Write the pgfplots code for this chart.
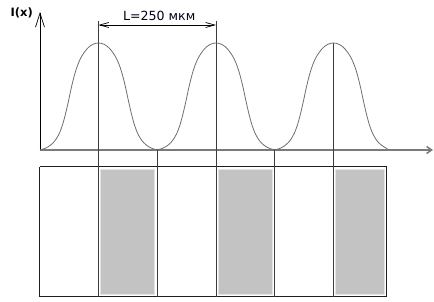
\documentclass[border=0pt]{standalone}
\usepackage{fontspec}
\setmainfont{DejaVu Sans}
\usepackage{pgfplots}
\pgfplotsset{compat=1.18}
\usetikzlibrary{arrows.meta}
\definecolor{curvec}{HTML}{6E6E6E}
\definecolor{vlinec}{HTML}{3C3C3C}
\definecolor{rectc}{HTML}{1E1E1E}
\definecolor{barfill}{HTML}{C3C3C3}
\definecolor{barbord}{HTML}{E4E4E4}
\definecolor{xaxc}{HTML}{7A7A7A}
\begin{document}
\begin{tikzpicture}
\begin{axis}[
  x=1pt, y=1pt,
  xmin=0, xmax=393, ymin=0, ymax=138,
  axis lines=left,
  xtick=\empty, ytick=\empty,
  clip=false,
  x axis line style={-{Straight Barb[length=5pt,width=7pt]}, line width=1.5pt, color=xaxc},
  y axis line style={-{Straight Barb[length=14pt,width=9pt]}, line width=0.7pt, color=black},
]
% gray bars
\addplot[fill=barfill, draw=barbord, line width=1pt] coordinates {(61,-19.5) (115,-19.5) (115,-145) (61,-145) (61,-19.5)};
\addplot[fill=barfill, draw=barbord, line width=1pt] coordinates {(178.5,-19.5) (232.5,-19.5) (232.5,-145) (178.5,-145) (178.5,-19.5)};
\addplot[fill=barfill, draw=barbord, line width=1pt] coordinates {(295.5,-19.5) (345,-19.5) (345,-145) (295.5,-145) (295.5,-19.5)};
% rectangle
\addplot[draw=rectc, line width=1pt] coordinates {(0,-17) (347,-17) (347,-147) (0,-147) (0,-17)};
% vertical lines
\addplot[draw=vlinec, line width=0.8pt] coordinates {(58.5,128.5) (58.5,-147)};
\addplot[draw=vlinec, line width=0.8pt] coordinates {(176,128.5) (176,-147)};
\addplot[draw=vlinec, line width=0.8pt] coordinates {(293.5,107) (293.5,-147)};
\addplot[draw=vlinec, line width=0.8pt] coordinates {(117.25,1) (117.25,-147)};
\addplot[draw=vlinec, line width=0.8pt] coordinates {(234.75,1) (234.75,-147)};
% intensity curve
\addplot[draw=curvec, line width=0.8pt, smooth] coordinates {
(0,0.2)(1.5,0.5)(4.5,1.4)(7.5,2.8)(10.5,4.8)(13.5,7.5)(16.5,11.5)(19.5,17)(22.5,25)(25.5,36)(28.5,49)(31.5,63)(34.5,75)(37.5,84.5)(40.5,91.5)(43.5,96.5)(46.5,100.5)(49.5,103.5)(52.5,105.5)(55.5,106.6)(58.5,107)(61.5,106.6)(64.5,105.5)(67.5,103.5)(70.5,100.5)(73.5,96.5)(76.5,91.5)(79.5,84.5)(82.5,75)(85.5,63)(88.5,49)(91.5,36)(94.5,25)(97.5,17)(100.5,11.5)(103.5,7.5)(106.5,4.8)(109.5,2.8)(112.5,1.4)(115.5,0.5)(117.25,0.2)
(119,0.5)(122,1.4)(125,2.8)(128,4.8)(131,7.5)(134,11.5)(137,17)(140,25)(143,36)(146,49)(149,63)(152,75)(155,84.5)(158,91.5)(161,96.5)(164,100.5)(167,103.5)(170,105.5)(173,106.6)(176,107)(179,106.6)(182,105.5)(185,103.5)(188,100.5)(191,96.5)(194,91.5)(197,84.5)(200,75)(203,63)(206,49)(209,36)(212,25)(215,17)(218,11.5)(221,7.5)(224,4.8)(227,2.8)(230,1.4)(233,0.5)(234.75,0.2)
(236.5,0.5)(239.5,1.4)(242.5,2.8)(245.5,4.8)(248.5,7.5)(251.5,11.5)(254.5,17)(257.5,25)(260.5,36)(263.5,49)(266.5,63)(269.5,75)(272.5,84.5)(275.5,91.5)(278.5,96.5)(281.5,100.5)(284.5,103.5)(287.5,105.5)(290.5,106.6)(293.5,107)(296.5,106.6)(299.5,105.5)(302.5,103.5)(305.5,100.5)(308.5,96.5)(311.5,91.5)(314.5,84.5)(317.5,75)(320.5,63)(323.5,49)(326.5,36)(329.5,25)(332.5,17)(335.5,11.5)(338.5,7.5)(341.5,4.8)(344.5,2.8)(347.5,1.2)
};
% dimension arrow
\addplot[draw=black, line width=0.7pt, {Straight Barb[length=9pt,width=5pt]}-{Straight Barb[length=9pt,width=5pt]}] coordinates {(58.5,125) (176,125)};
\node[anchor=base, font=\fontsize{12.6}{14}\selectfont, text=black!90!blue] at (axis cs:119.2,129.3) {L=250 мкм};
\node[anchor=base, font=\fontsize{11.5}{13}\selectfont\bfseries] at (axis cs:-18.3,133.3) {I(x)};
% page bounds
\path (axis cs:-40,-152) rectangle (axis cs:394,150);
\end{axis}
\end{tikzpicture}
\end{document}
